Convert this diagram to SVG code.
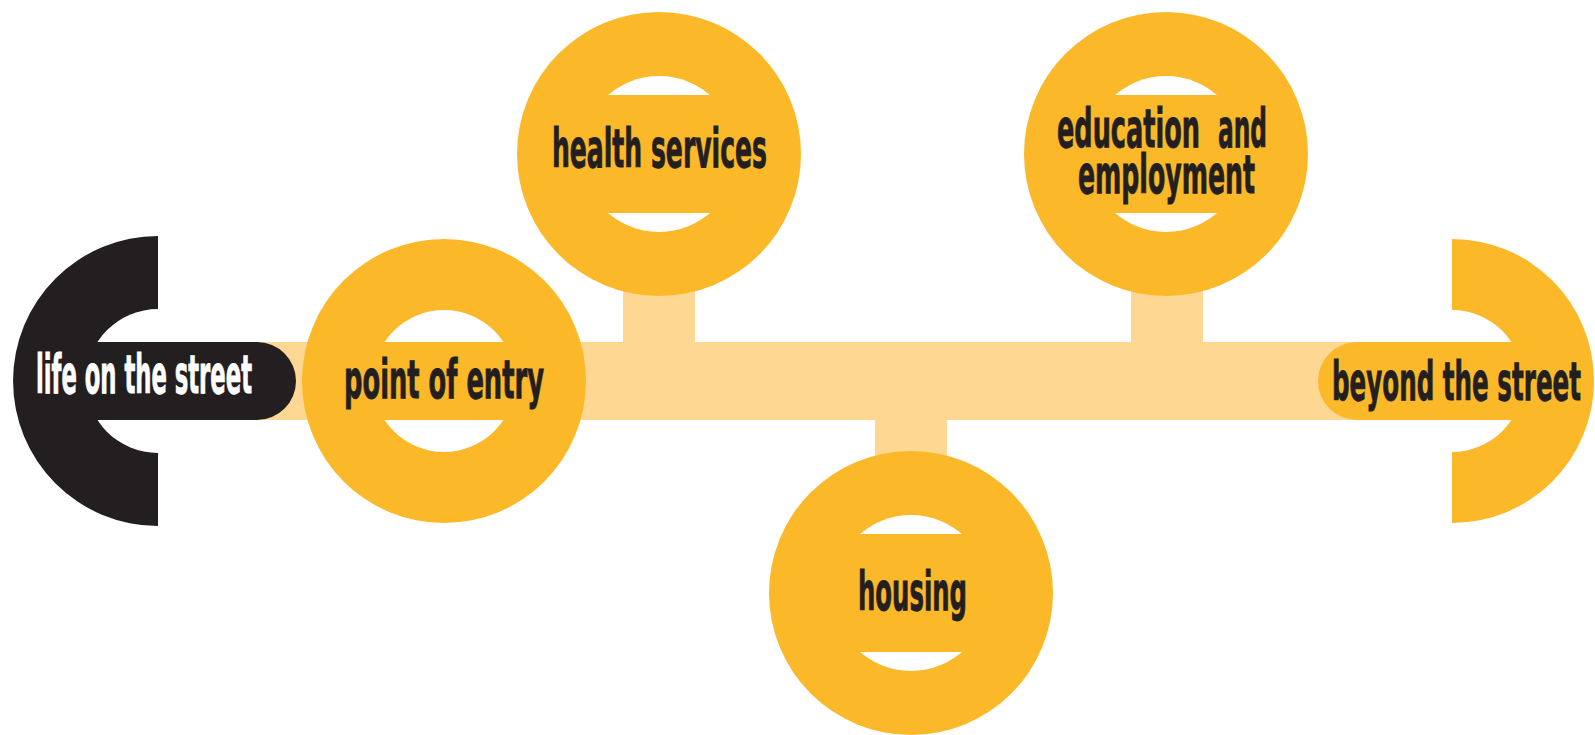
<svg xmlns="http://www.w3.org/2000/svg" width="1595" height="735" viewBox="0 0 1595 735">
<style>
.y{fill:#FBB829}
.w{fill:#FFFFFF}
.k{fill:#231F20}
.lt{fill:#FED793}
.t{font-family:"Liberation Sans Narrow","DejaVu Sans Condensed","Liberation Sans",sans-serif;font-weight:bold;font-size:54px;fill:#231F20;stroke:#231F20;stroke-width:0.9}
.tw{fill:#FFFFFF;stroke:#FFFFFF}
</style>
<rect width="1595" height="735" fill="#FFFFFF"/>
<g id="connectors">
<rect class="lt" x="203" y="342" width="1160" height="78"/>
<rect class="lt" x="623" y="270" width="72" height="80"/>
<rect class="lt" x="1131" y="270" width="72" height="80"/>
<rect class="lt" x="875" y="412" width="72" height="50"/>
</g>
<g id="life-on-the-street">
<path class="k" d="M158,236 A145,145 0 0 0 158,526 Z"/>
<path class="w" d="M158,309 A72,72 0 0 0 158,453 Z"/>
<path class="k" d="M80,342 H257 A39,39 0 0 1 257,420 H80 Z"/>
<text class="t tw" x="36" y="393" textLength="216" lengthAdjust="spacingAndGlyphs">life on the street</text>
</g>
<g id="point-of-entry">
<circle class="y" cx="444" cy="381" r="142"/>
<circle class="w" cx="444" cy="381" r="71"/>
<rect class="y" x="372" y="342" width="144" height="78"/>
<text class="t" x="344" y="398" textLength="200" lengthAdjust="spacingAndGlyphs">point of entry</text>
</g>
<g id="health-services">
<circle class="y" cx="659" cy="154" r="142"/>
<circle class="w" cx="659" cy="154" r="78"/>
<rect class="y" x="580" y="95" width="158" height="118"/>
<text class="t" x="552" y="167" textLength="215" lengthAdjust="spacingAndGlyphs">health services</text>
</g>
<g id="education-and-employment">
<circle class="y" cx="1166" cy="154" r="142"/>
<circle class="w" cx="1166" cy="154" r="78"/>
<rect class="y" x="1087" y="95" width="158" height="118"/>
<text class="t"><tspan x="1057" y="147" textLength="143" lengthAdjust="spacingAndGlyphs">education</tspan> <tspan x="1218" y="147" textLength="49" lengthAdjust="spacingAndGlyphs">and</tspan></text>
<text class="t" x="1078" y="193" textLength="177" lengthAdjust="spacingAndGlyphs">employment</text>
</g>
<g id="housing">
<circle class="y" cx="911" cy="593" r="142"/>
<circle class="w" cx="911" cy="593" r="78"/>
<rect class="y" x="832" y="534" width="158" height="118"/>
<text class="t" x="858" y="610" textLength="109" lengthAdjust="spacingAndGlyphs">housing</text>
</g>
<g id="beyond-the-street">
<path class="y" d="M1452,239 A142,142 0 0 1 1452,523 Z"/>
<path class="w" d="M1452,310 A71,71 0 0 1 1452,452 Z"/>
<path class="y" d="M1357,342 H1530 V420 H1357 A39,39 0 0 1 1357,342 Z"/>
<text class="t" x="1332" y="400" textLength="249" lengthAdjust="spacingAndGlyphs">beyond the street</text>
</g>
</svg>
